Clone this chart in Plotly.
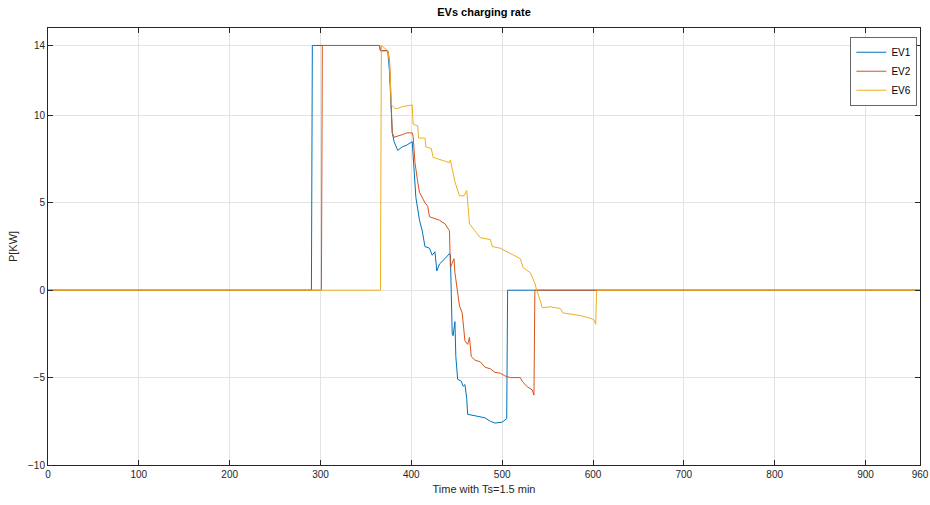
import plotly.graph_objects as go

# EV1 (blue)
ev1_t = [0, 290, 291, 365, 366, 374, 376, 378, 379, 381, 385, 390, 395, 401, 403, 405, 409, 412, 415,
         420, 423, 426, 428, 431, 437, 442, 443, 444, 445, 446, 448, 449, 451, 455, 457, 459, 461, 462,
         470, 481, 487, 492, 500, 503, 505, 506, 960]
ev1_p = [0, 0, 14, 14, 13.7, 13.7, 12.5, 9.5, 9.0, 8.5, 8.0, 8.2, 8.3, 8.5, 7.0, 5.3, 4.0, 3.4, 2.5,
         2.4, 2.0, 2.2, 1.1, 1.5, 1.8, 2.1, 2.0, -1.0, -2.5, -2.6, -1.8, -3.8, -5.1, -5.2, -5.5, -5.4, -6.2, -7.1,
         -7.2, -7.3, -7.5, -7.6, -7.55, -7.4, -7.35, 0, 0]

# EV2 (red)
ev2_t = [0, 301, 302, 365, 366, 374, 376, 378, 379, 381, 385, 390, 395, 401, 402, 404, 407, 409, 415,
         418, 420, 425, 431, 437, 442, 443, 447, 448, 451, 453, 456, 459, 462, 464, 466, 470, 476, 481,
         487, 492, 498, 503, 509, 520, 522, 527, 533, 535, 536, 960]
ev2_p = [0, 0, 14, 14, 13.7, 13.7, 13.2, 10.5, 9.0, 8.75, 8.8, 8.9, 9.0, 9.0, 8.8, 7.3, 6.2, 5.6, 5.0,
         4.8, 4.2, 4.1, 4.0, 3.8, 3.4, 1.3, 1.8, 1.0, -0.2, -0.9, -1.3, -2.9, -3.1, -2.7, -3.8, -4.0, -4.1, -4.4,
         -4.5, -4.7, -4.75, -4.9, -5.0, -5.0, -5.2, -5.5, -5.7, -6.0, 0, 0]

# EV6 (yellow)
ev6_t = [0, 366, 367, 374, 376, 378, 382, 385, 390, 401, 402, 407, 408, 415, 416, 422, 424, 430, 436,
         442, 443, 444, 448, 453, 458, 461, 462, 464, 470, 476, 487, 489, 498, 509, 520, 523, 531, 536,
         538, 542, 544, 553, 564, 567, 575, 586, 597, 601, 603, 604, 960]
ev6_p = [0, 0, 14, 13.7, 13.0, 10.6, 10.4, 10.4, 10.5, 10.6, 9.5, 9.4, 8.7, 8.7, 8.2, 8.1, 7.6, 7.5, 7.4,
         7.3, 7.45, 7.2, 6.2, 5.4, 5.4, 5.7, 5.2, 3.8, 3.4, 3.0, 2.9, 2.5, 2.4, 2.1, 1.8, 1.3, 1.0, 0.4,
         0, -0.6, -1.0, -0.95, -1.05, -1.3, -1.35, -1.45, -1.6, -1.7, -1.95, 0, 0]

x_ticks = [0, 100, 200, 300, 400, 500, 600, 700, 800, 900, 960]
y_ticks = [-10, -5, 0, 5, 10, 14]

fig = go.Figure()
for t, p, name, color in [(ev1_t, ev1_p, "EV1", "#0072BD"),
                          (ev2_t, ev2_p, "EV2", "#D95319"),
                          (ev6_t, ev6_p, "EV6", "#EDB120")]:
    fig.add_trace(go.Scatter(x=t, y=p, mode="lines", name=name,
                             line=dict(color=color, width=1)))

axis_common = dict(showline=True, linecolor="#262626", linewidth=1, mirror="ticks",
                   ticks="inside", ticklen=5, tickcolor="#262626", showgrid=True,
                   gridcolor="#e3e3e3", gridwidth=1, zeroline=False, automargin=False,
                   tickfont=dict(family="Liberation Sans, Arial", size=10, color="#262626"))

fig.update_layout(
    width=930, height=505,
    margin=dict(l=48, r=10, t=28, b=40, autoexpand=False),
    paper_bgcolor="white", plot_bgcolor="white",
    title=dict(text="<b>EVs charging rate</b>", x=0.5, xref="paper", xanchor="center",
               y=1, yref="container", yanchor="top", pad=dict(t=8),
               font=dict(family="Liberation Sans, Arial", size=11, color="#000000")),
    xaxis=dict(range=[0, 960], tickvals=x_ticks,
               title=dict(text="Time with Ts=1.5 min", standoff=6,
                          font=dict(family="Liberation Sans, Arial", size=11, color="#262626")),
               **axis_common),
    yaxis=dict(range=[-10, 15], tickvals=y_ticks,
               title=dict(text="P[KW]", standoff=8,
                          font=dict(family="Liberation Sans, Arial", size=11, color="#262626")),
               **axis_common),
    legend=dict(x=0.997, xanchor="right", y=0.98, yanchor="top",
                bgcolor="white", bordercolor="#666666", borderwidth=1,
                itemwidth=30, tracegroupgap=0,
                font=dict(family="Liberation Sans, Arial", size=10, color="#000000")),
    showlegend=True,
)

fig.write_html("out.html")
